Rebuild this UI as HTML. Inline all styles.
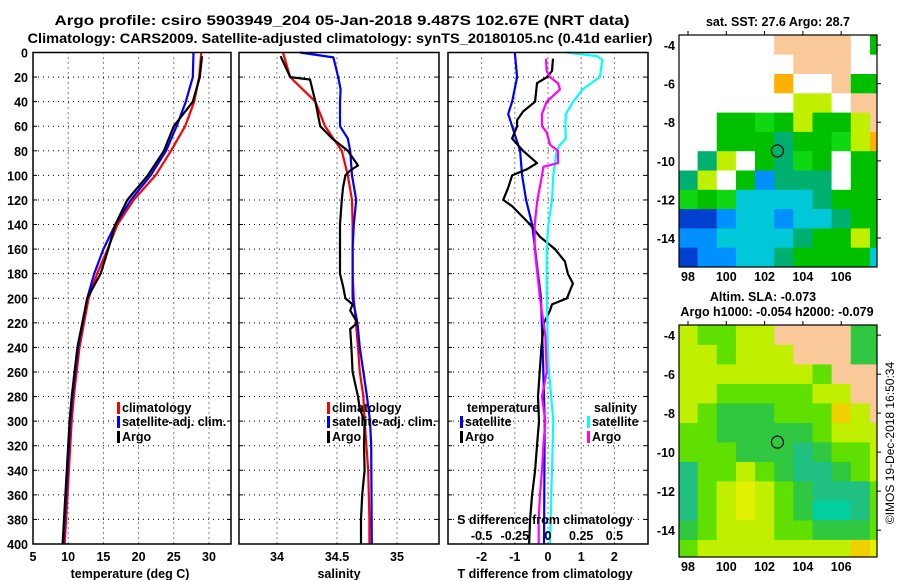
<!DOCTYPE html>
<html><head><meta charset="utf-8"><style>
html,body{margin:0;padding:0;background:#fff;}
svg{display:block;font-family:"Liberation Sans",Arial,sans-serif;font-weight:bold;}
</style></head><body>
<svg id="chart" width="900" height="580" viewBox="0 0 900 580" xmlns="http://www.w3.org/2000/svg">
<rect x="0" y="0" width="900" height="580" fill="#fff"/>
<text x="342" y="25" font-size="14" text-anchor="middle" textLength="575" lengthAdjust="spacingAndGlyphs">Argo profile: csiro 5903949_204 05-Jan-2018 9.487S 102.67E (NRT data)</text>
<text x="340" y="43" font-size="14" text-anchor="middle" textLength="625" lengthAdjust="spacingAndGlyphs">Climatology: CARS2009. Satellite-adjusted climatology: synTS_20180105.nc (0.41d earlier)</text>
<g id="g"></g>
</svg>
<script>
// ---- Data ----
const tDepth = [0,20,40,60,80,100,120,140,160,180,200,240,280,300,340,360,400];
const tClim  = [28.9,28.6,27.9,26.6,24.6,22.4,19.3,17.0,15.6,14.1,12.9,11.6,10.8,10.5,10.1,9.9,9.5];
const tSat   = [27.8,27.7,26.7,25.4,23.9,21.7,18.9,16.7,15.0,13.7,12.7,11.4,10.6,10.3,9.9,9.7,9.3];
const tArgoDepth = [3,20,40,60,80,100,120,140,160,180,200,240,280,300,340,360,400];
const tArgo  = [29.0,28.7,27.7,25.0,23.6,21.3,18.4,16.7,15.7,14.6,12.7,11.3,10.5,10.2,9.8,9.6,9.2];

const sDepth = [0,20,40,60,80,100,120,140,160,180,200,240,260,280,300,340,380,400];
const sClim  = [34.05,34.11,34.32,34.40,34.54,34.59,34.625,34.63,34.63,34.63,34.64,34.675,34.69,34.72,34.73,34.76,34.77,34.77];
const sSatDepth = [0,4,20,30,40,60,70,80,100,120,140,160,200,220,240,260,280,300,320,400];
const sSat   = [34.19,34.47,34.51,34.53,34.525,34.525,34.59,34.61,34.625,34.66,34.64,34.63,34.63,34.67,34.69,34.72,34.75,34.775,34.785,34.79];
const sArgoDepth = [3,20,22,40,60,70,80,92,96,100,110,120,140,180,190,200,205,210,220,225,240,260,280,290,300,320,340,360,380,400];
const sArgo  = [34.03,34.11,34.275,34.32,34.36,34.46,34.59,34.675,34.61,34.57,34.55,34.54,34.525,34.525,34.55,34.57,34.63,34.61,34.67,34.61,34.62,34.63,34.675,34.69,34.73,34.725,34.73,34.71,34.70,34.70];

const dTsatDepth = [0,20,40,50,60,80,100,120,140,160,180,200,250,300,400];
const dTsat  = [-1.0,-0.93,-1.08,-1.2,-1.08,-0.84,-0.78,-0.66,-0.48,-0.39,-0.3,-0.21,-0.15,-0.1,-0.12];
const dTargoDepth = [5,15,20,25,40,48,55,60,70,80,90,95,100,110,120,125,140,150,160,170,180,188,200,205,210,220,240,260,280,300,320,340,360,380,400];
const dTargo = [0.15,0.12,-0.03,-0.33,-0.39,-0.75,-0.93,-0.93,-1.08,-0.75,-0.33,-0.63,-1.08,-1.2,-1.35,-1.08,-0.54,-0.24,0.21,0.51,0.6,0.75,0.57,0.12,0.06,-0.12,-0.2,-0.25,-0.3,-0.27,-0.33,-0.39,-0.48,-0.54,-0.57];
const dSsatDepth = [0,3,6,20,30,40,50,60,70,75,80,100,120,140,160,200,250,300,400];
const dSsat  = [0.14,0.37,0.41,0.39,0.26,0.19,0.135,0.13,0.135,0.09,0.065,0.04,0.03,0.003,-0.01,-0.01,0.0,0.04,0.015];
const dSargoDepth = [5,15,20,25,30,40,50,60,65,75,80,90,93,100,120,140,160,180,200,230,260,280,300,320,340,360,380,400];
const dSargo = [-0.015,-0.01,0.015,0.075,0.09,-0.01,-0.045,-0.045,-0.01,0.015,0.075,0.075,-0.035,-0.045,-0.08,-0.1,-0.1,-0.08,-0.06,-0.02,-0.01,-0.045,-0.02,-0.035,-0.045,-0.06,-0.07,-0.07];

const depthTicks = [0,20,40,60,80,100,120,140,160,180,200,220,240,260,280,300,320,340,360,380,400];
const tTicks = [5,10,15,20,25,30];
const sTicks = [34,34.5,35];
const dTTicks = [-2,-1,0,1,2];
const dSTicks = [-0.5,-0.25,0,0.25,0.5];

// map grids (rows lat -3.5..-15.5 by 1 deg; cols lon 97.5..108.5 by 1 deg)
const sstRows = ["WWWWWLLLLWg","WWWWWWLLLWW","WWWWWoWWLgg","WWWWWWyyWLL","WWggGgyggyL","WWgggtggGyo","WtyWgtGgWgg","tyWgbtttWgg","GgGcccctggg","BBbccbcctgg","bbcccctggyg","Bbbcctggggc"];
const slaRows = ["yGGyyLLLLgg","yyGyyyLLLgg","yyyyyyyGLLL","yyGGGGGyyLL","yGgggGGGoyL","GGgggggGyyy","GGGgggtgGGy","tGGyGgttgGy","tGyYyGgtttG","tGyYyGgTTtG","gGyyyGGgggG","GyyyyyyyyoY"];
const sstColors = {W:"#ffffff",L:"#f9c99a",g:"#00c000",G:"#10d810",t:"#00b070",c:"#00c8d8",b:"#0090ff",B:"#0040d0",y:"#c0f000",o:"#ffb000"};
const slaColors = {L:"#f9c99a",y:"#c0f000",G:"#60e000",g:"#30c840",t:"#20c080",T:"#00d0a0",Y:"#e0f000",o:"#f0d000"};
const lonTicks = [98,100,102,104,106];
const latTicks = [-4,-6,-8,-10,-12,-14];
const argoLon = 102.67, argoLat = -9.487;

// ---- helpers ----
const NS = "http://www.w3.org/2000/svg";
const root = document.getElementById('g');
function mk(tag, attrs, parent){const e=document.createElementNS(NS,tag);for(const k in attrs)e.setAttribute(k,attrs[k]);(parent||root).appendChild(e);return e;}
function txt(x,y,s,size,anchor,name){const e=mk('text',{x:x,y:y,'font-size':size,'text-anchor':anchor||'middle'});e.textContent=s;


return e;}
const Y0=52.5, Y1=544;
const yD = d => Y0 + d*(Y1-Y0)/400;

function panel(x0,x1,name){
  const r=mk('rect',{x:x0,y:Y0,width:x1-x0,height:Y1-Y0,fill:'none',stroke:'#000','stroke-width':1.5});
  
  
}
function hgrid(x0,x1){depthTicks.forEach(d=>{if(d>0&&d<400){const l=mk('line',{x1:x0,x2:x1,y1:yD(d),y2:yD(d),stroke:'#000','stroke-width':1,'stroke-dasharray':'1,4'});


const t1=mk('line',{x1:x0,x2:x0+4,y1:yD(d),y2:yD(d),stroke:'#000'});
const t2=mk('line',{x1:x1-4,x2:x1,y1:yD(d),y2:yD(d),stroke:'#000'});}});}
function vgrid(vals,fx){vals.forEach(v=>{const x=fx(v);const l=mk('line',{x1:x,x2:x,y1:Y0,y2:Y1,stroke:'#000','stroke-width':1,'stroke-dasharray':'1,4'});

});}
function series(depths,vals,fx,color,name,w){
  const pts=depths.map((d,i)=>fx(vals[i]).toFixed(1)+','+yD(d).toFixed(1)).join(' ');
  const p=mk('polyline',{points:pts,fill:'none',stroke:color,'stroke-width':w||2.2,'stroke-linejoin':'round'});
  
  
}
function legendEntry(x,y,color,label,name){
  const b=mk('rect',{x:x,y:y-10,width:3,height:12,fill:color});
  
  
  txt(x+5,y,label,12.5,'start',name);
}

// ---- Panel 1: temperature ----
const xT = v => 33 + (v-5)*7.04;
vgrid([10,15,20,25,30],xT); hgrid(33,231);
series(tDepth,tClim,xT,'#ff0000','temp-climatology-line');
series(tDepth,tSat,xT,'#0000ff','temp-satellite-line');
series(tArgoDepth,tArgo,xT,'#000000','temp-argo-line');
panel(33,231,'temperature-panel');
depthTicks.forEach(d=>txt(28,yD(d)+5,String(d),12.5,'end','depth-tick-label'));
tTicks.forEach(v=>txt(xT(v),561,String(v),12.5,'middle','temp-tick-label'));
txt(130,578,'temperature (deg C)',12.5,'middle','temp-axis-title');
legendEntry(117,412,'#ff0000','climatology','legend-climatology');
legendEntry(117,426,'#0000ff','satellite-adj. clim.','legend-satellite-adj');
legendEntry(117,441,'#000000','Argo','legend-argo');

// ---- Panel 2: salinity ----
const xS = v => 277 + (v-34)*120;
vgrid(sTicks,xS); hgrid(239,439);
series(sDepth,sClim,xS,'#ff0000','sal-climatology-line');
series(sSatDepth,sSat,xS,'#0000ff','sal-satellite-line');
series(sArgoDepth,sArgo,xS,'#000000','sal-argo-line');
panel(239,439,'salinity-panel');
sTicks.forEach(v=>txt(xS(v),561,String(v),12.5,'middle','sal-tick-label'));
txt(339,578,'salinity',12.5,'middle','sal-axis-title');
legendEntry(327,412,'#ff0000','climatology','legend-sal-climatology');
legendEntry(327,426,'#0000ff','satellite-adj. clim.','legend-sal-satellite-adj');
legendEntry(327,441,'#000000','Argo','legend-sal-argo');

// ---- Panel 3: differences ----
const xDT = v => 548 + v*33.2;
const xDS = v => 548 + v*132.8;
vgrid(dTTicks,xDT); hgrid(448,648);
series(dTsatDepth,dTsat,xDT,'#0000ff','tdiff-satellite-line');
series(dTargoDepth,dTargo,xDT,'#000000','tdiff-argo-line');
series(dSsatDepth,dSsat,xDS,'#00ffff','sdiff-satellite-line');
series(dSargoDepth,dSargo,xDS,'#ff00ff','sdiff-argo-line');
panel(448,648,'difference-panel');
dTTicks.forEach(v=>txt(xDT(v),561,String(v),12.5,'middle','tdiff-tick-label'));
dSTicks.forEach(v=>txt(xDS(v),540,String(v),12.5,'middle','sdiff-tick-label'));
txt(545,524,'S difference from climatology',12.5,'middle','sdiff-axis-title');
txt(545,578,'T difference from climatology',12.5,'middle','tdiff-axis-title');
txt(467,412,'temperature',12.5,'start','legend-temperature-heading');
legendEntry(460,426,'#0000ff','satellite','legend-tdiff-satellite');
legendEntry(460,441,'#000000','Argo','legend-tdiff-argo');
txt(594,412,'salinity',12.5,'start','legend-salinity-heading');
legendEntry(587,426,'#00ffff','satellite','legend-sdiff-satellite');
legendEntry(587,441,'#ff00ff','Argo','legend-sdiff-argo');

// ---- Maps ----
function map(top,rows,colors,name,latPx){
  const L=679,R=877,B=top+232, lon0=97.53, lonPx=19.15, lat0=-3.48;
  const xL = lon => L + (lon-lon0)*lonPx;
  const yL = lat => top + (lat0-lat)*latPx;
  const g=mk('g',{});
  
  
  const cp=mk('clipPath',{id:name+'-clip'},g); mk('rect',{x:L,y:top,width:R-L,height:232},cp);
  const cells=mk('g',{'clip-path':'url(#'+name+'-clip)'},g);
  rows.forEach((row,ri)=>{[...row].forEach((ch,ci)=>{
    const lonA=97.5+ci, latA=-3.5-ri;
    const c=mk('rect',{x:xL(lonA).toFixed(1),y:yL(latA).toFixed(1),width:lonPx+0.6,height:latPx+0.6,fill:colors[ch]},cells);
    
    
  });});
  const fr=mk('rect',{x:L,y:top,width:R-L,height:232,fill:'none',stroke:'#000','stroke-width':1.2},g);
  
  
  const m=mk('circle',{cx:xL(argoLon),cy:yL(argoLat),r:6,fill:'none',stroke:'#000','stroke-width':1.2},g);
  
  
  latTicks.forEach(v=>{txt(675,yL(v)+5,String(v),12.5,'end','lat-tick-label');
    const t=mk('line',{x1:R,x2:R+4,y1:yL(v),y2:yL(v),stroke:'#000'});});
  lonTicks.forEach(v=>{txt(xL(v),B+14,String(v),12.5,'middle','lon-tick-label');
    const t=mk('line',{x1:xL(v),x2:xL(v),y1:top-4,y2:top,stroke:'#000'});});
}
map(35,sstRows,sstColors,'sst-map',19.3);
map(325,slaRows,slaColors,'sla-map',19.5);
txt(778,26,'sat. SST: 27.6  Argo: 28.7',12.5,'middle','sst-map-title');
txt(763,301,'Altim. SLA: -0.073',12.5,'middle','sla-map-title');
txt(777,316,'Argo h1000: -0.054 h2000: -0.079',12.5,'middle','argo-height-label');
const ts=txt(0,0,'\u00a9IMOS 19-Dec-2018 16:50:34',12,'middle','timestamp');
ts.setAttribute('font-weight','normal');
ts.setAttribute('transform','translate(894,443) rotate(-90)');
</script>
</body></html>
